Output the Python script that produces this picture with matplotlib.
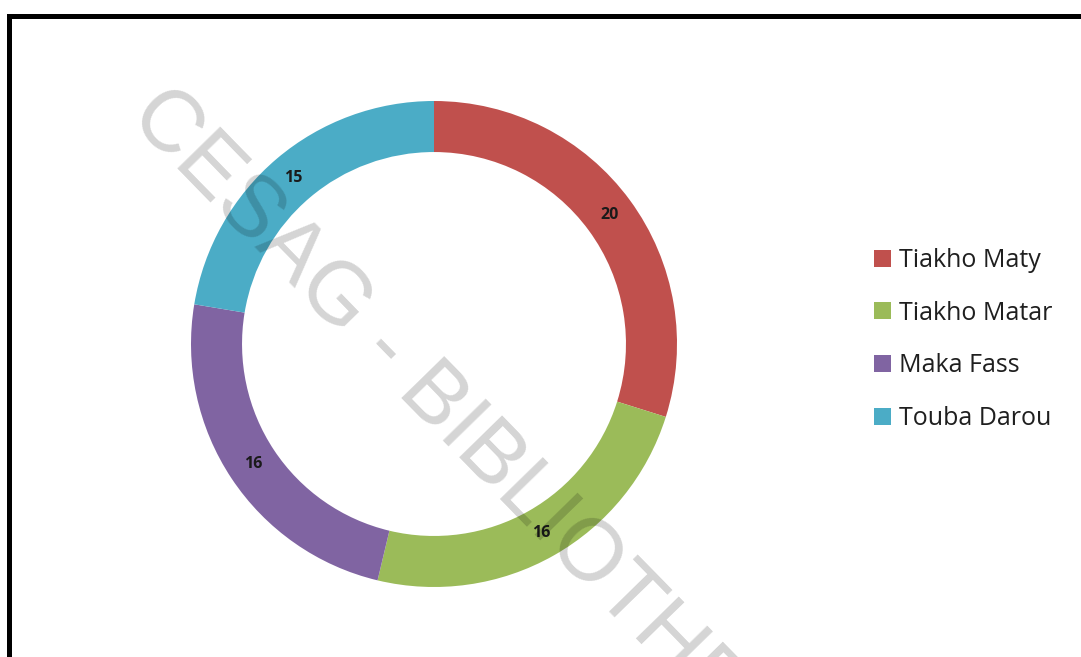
import matplotlib.pyplot as plt
from matplotlib.patches import Rectangle

villages = ["Tiakho Maty", "Tiakho Matar", "Maka Fass", "Touba Darou"]
effectifs = [20, 16, 16, 15]
colors = ["#C0504D", "#9BBB59", "#8064A2", "#4BACC6"]

W, H = 1081, 657
fig = plt.figure(figsize=(W / 100, H / 100), dpi=100)
fig.patch.set_facecolor("white")

# donut axes: centre ~(434, 344) px, outer radius ~243 px
cx, cy, r = 434, 344, 243
ax = fig.add_axes([(cx - r) / W, 1 - (cy + r) / H, 2 * r / W, 2 * r / H])

total = sum(effectifs)
wedges, _, autotexts = ax.pie(
    effectifs, colors=colors, startangle=90, counterclock=False,
    wedgeprops=dict(width=0.21, linewidth=0),
    autopct=lambda p: f"{p * total / 100:.0f}", pctdistance=0.895,
)
for t in autotexts:
    t.set_fontsize(11.5)
    t.set_fontweight("bold")
    t.set_color("#1a1a1a")
    t.set_family("Open Sans")
ax.set_xlim(-1, 1)
ax.set_ylim(-1, 1)
ax.set_aspect("auto")
ax.axis("off")

# legend on the right
fig.legend(wedges, villages, loc="center left",
           bbox_to_anchor=(874 / W, 1 - 339.5 / H), frameon=False,
           prop={"family": "Open Sans", "size": 18},
           handlelength=0.68, handleheight=0.68, handletextpad=0.32,
           labelspacing=1.11, borderpad=0, borderaxespad=0,
           labelcolor="#1f1f1f")

# black frame (right and bottom sides run past the picture)
fig.patches.append(Rectangle((8.8 / W, -0.2), 1.5, 1.2 - 15.5 / H,
                             transform=fig.transFigure, fill=False,
                             edgecolor="black", linewidth=3.6, zorder=5))

# watermark
fig.text(127.9 / W, 1 - 118.1 / H, "CESAG - BIBLIOTHEQUE",
         rotation=-45.7, rotation_mode="anchor", ha="left", va="baseline",
         fontsize=63, family="Liberation Sans", color="black", alpha=0.17,
         zorder=10)

fig.savefig("out.png", dpi=100, facecolor="white")
